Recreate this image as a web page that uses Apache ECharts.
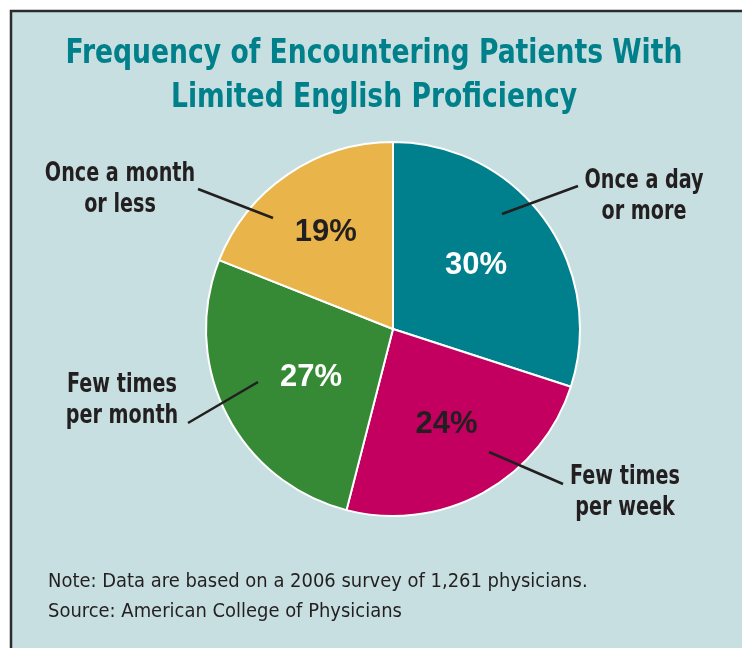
<!DOCTYPE html>
<html>
<head>
<meta charset="utf-8">
<title>Frequency of Encountering Patients With Limited English Proficiency</title>
<script src="https://cdn.jsdelivr.net/npm/echarts@6/dist/echarts.min.js"></script>
<style>
  html, body { margin: 0; padding: 0; background: #ffffff; }
  #chart { width: 742px; height: 648px; }
</style>
</head>
<body>
<div id="chart"></div>
<script>
const categories = ['Once a day\nor more', 'Few times\nper week', 'Few times\nper month', 'Once a month\nor less'];
const shares = [30, 24, 27, 19];
const sliceColors = ['#00808c', '#c3005f', '#368a35', '#e9b44a'];
const percentColors = ['#ffffff', '#231f20', '#ffffff', '#231f20'];

const titleLines = ['Frequency of Encountering Patients With', 'Limited English Proficiency'];
const noteLines = [
  'Note: Data are based on a 2006 survey of 1,261 physicians.',
  'Source: American College of Physicians'
];

const chart = echarts.init(document.getElementById('chart'), null, { renderer: 'canvas' });

const condensed = '"Liberation Sans Narrow", "DejaVu Sans Condensed", sans-serif';
const center = [393, 329];
const radius = 187;

// nudges for the percent labels, per slice
const labelNudge = [[5, -7], [7, 11], [4, 5], [-13, -17]];

// callout placement: text anchor and line ends, per slice
const callouts = [
  { tx: 644, ty: 197, line: [502, 214, 578, 186] },
  { tx: 625, ty: 493, line: [489, 452, 563, 484] },
  { tx: 122, ty: 401, line: [258, 382, 188, 423] },
  { tx: 120, ty: 190, line: [273, 218, 198, 189] }
];

const graphics = [
  {
    type: 'rect',
    shape: { x: 11, y: 11, width: 760, height: 660 },
    style: { fill: '#c7dfe0', stroke: '#2b2b2b', lineWidth: 2.5 },
    z: -10
  },
  {
    type: 'text',
    x: 374, y: 76,
    scaleX: 0.87,
    style: {
      text: titleLines.join('\n'),
      font: 'bold 34px ' + condensed,
      fill: '#00808a',
      align: 'center',
      verticalAlign: 'middle',
      lineHeight: 44
    }
  },
  {
    type: 'text',
    x: 48, y: 597,
    scaleX: 1.05,
    style: {
      text: noteLines.join('\n'),
      font: '19px ' + condensed,
      fill: '#231f20',
      align: 'left',
      verticalAlign: 'middle',
      lineHeight: 30
    }
  }
];

callouts.forEach((c, i) => {
  graphics.push({
    type: 'line',
    z: 100,
    shape: { x1: c.line[0], y1: c.line[1], x2: c.line[2], y2: c.line[3] },
    style: { stroke: '#231f20', lineWidth: 2.5 }
  });
  graphics.push({
    type: 'text',
    z: 100,
    x: c.tx, y: c.ty,
    scaleX: 0.82,
    style: {
      text: categories[i],
      font: 'bold 26px ' + condensed,
      fill: '#231f20',
      align: 'center',
      verticalAlign: 'middle',
      lineHeight: 31
    }
  });
});

chart.setOption({
  backgroundColor: '#ffffff',
  animation: false,
  graphic: graphics,
  series: [
    {
      type: 'pie',
      center: center,
      radius: radius,
      startAngle: 90,
      clockwise: true,
      silent: true,
      data: categories.map((name, i) => ({
        name: name,
        value: shares[i],
        itemStyle: { color: sliceColors[i] },
        label: { color: percentColors[i], offset: labelNudge[i] }
      })),
      itemStyle: { borderColor: '#ffffff', borderWidth: 2 },
      label: {
        show: true,
        position: 'inside',
        formatter: '{c}%',
        fontFamily: '"Liberation Sans", Arial, sans-serif',
        fontWeight: 'bold',
        fontSize: 31
      },
      labelLine: { show: false }
    }
  ]
});

window.addEventListener('resize', () => chart.resize());
</script>
</body>
</html>
